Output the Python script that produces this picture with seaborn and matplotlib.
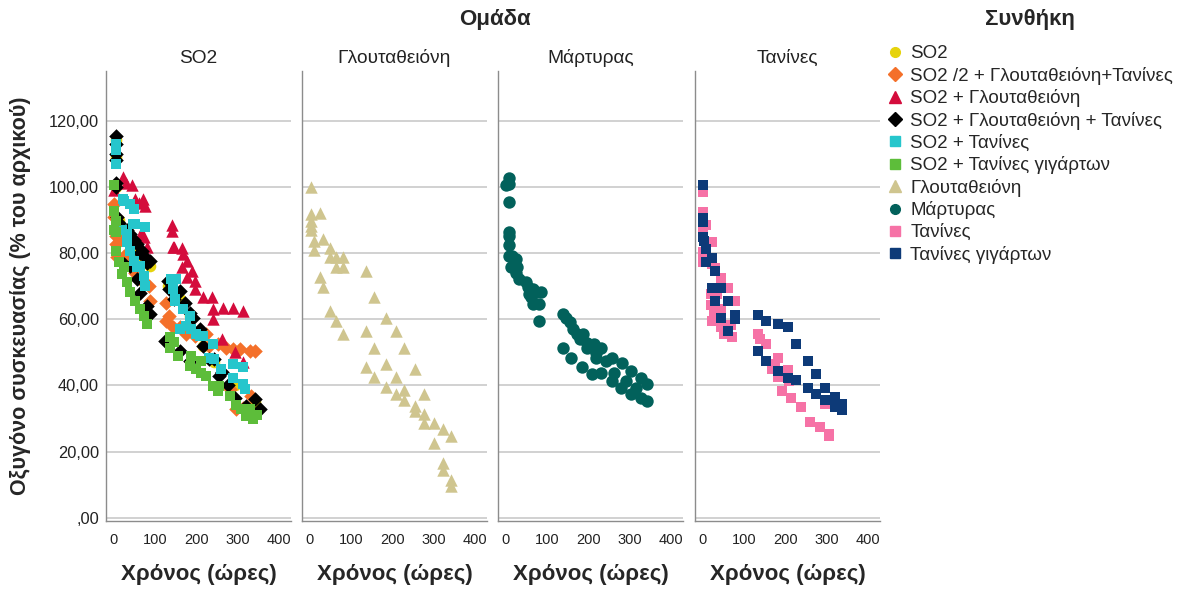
import matplotlib
matplotlib.use("Agg")
import matplotlib.pyplot as plt
from matplotlib.lines import Line2D
import seaborn as sns
import pandas as pd

# ---- conditions, groups and styling -------------------------------------
conditions = ["SO2", "SO2 /2 + Γλουταθειόνη+Τανίνες", "SO2 + Γλουταθειόνη",
              "SO2 + Γλουταθειόνη + Τανίνες", "SO2 + Τανίνες",
              "SO2 + Τανίνες γιγάρτων", "Γλουταθειόνη", "Μάρτυρας",
              "Τανίνες", "Τανίνες γιγάρτων"]
groups = ["SO2", "Γλουταθειόνη", "Μάρτυρας", "Τανίνες"]
group_of = {c: "SO2" for c in conditions[:6]}
group_of.update({"Γλουταθειόνη": "Γλουταθειόνη", "Μάρτυρας": "Μάρτυρας",
                 "Τανίνες": "Τανίνες", "Τανίνες γιγάρτων": "Τανίνες"})
colors = ["#e6d30c", "#f4702a", "#d40c3c", "#000000", "#26c6cc",
          "#5dbd3a", "#cfc58f", "#02615b", "#f672a6", "#0d3a78"]
markers = ["o", "D", "^", "D", "s", "s", "^", "o", "s", "s"]
sizes = [70, 55, 80, 55, 60, 60, 80, 80, 60, 60]

# ---- measurements: time (hours) and oxygen (% of initial) ----------------
so2_t = [4, 4, 4, 12, 24, 40, 56, 72, 88, 131, 159, 183, 215, 243, 292, 340]
so2_v = [114, 109, 100, 90, 86, 84, 81, 78, 76, 70, 66, 61, 52, 47, 40, 35]

half_t = [0, 0, 4, 4, 8, 16, 24, 36, 52, 64, 84, 88, 127, 133, 127, 143, 159,
          175, 195, 223, 231, 251, 271, 288, 304, 328, 340, 280, 296, 312, 332]
half_v = [94.8, 91, 85, 82.7, 78.7, 84, 79.2, 77, 74, 72, 70.1, 65.6, 65, 61,
          59.5, 57.5, 57.5, 55.5, 55, 55.5, 52, 52.4, 51.4, 50.9, 50.9, 50.4,
          50.4, 39, 32.7, 33, 36.8]

glut_so2_t = [0, 22, 29, 44, 52, 60, 71, 75, 65, 72, 79, 141, 141, 143, 145,
              165, 167, 177, 165, 190, 177, 195, 195, 215, 238, 239, 263, 289,
              312, 239, 262, 292, 312]
glut_so2_v = [99, 103, 101, 100.4, 96.4, 95, 96.4, 94.3, 86, 84.7, 81.8, 88.5,
              86.5, 81.7, 81.7, 81.4, 79.7, 77.7, 75.7, 74.7, 72.6, 71.6, 69.1,
              66.6, 66.6, 63, 63.5, 63.5, 62.5, 60, 54, 50, 47]

glut_tan_so2_t = [4, 4, 4, 4, 4, 4, 8, 12, 16, 24, 32, 40, 48, 56, 64, 68, 76,
                  80, 88, 40, 56, 64, 80, 88, 133, 137, 131, 145, 159, 171, 183,
                  191, 207, 215, 123, 159, 183, 243, 255, 275, 292, 320, 340,
                  352, 230, 262]
glut_tan_so2_v = [115.5, 113, 110, 108, 101, 100, 91, 89, 88, 76.7, 87, 85.8,
                  84, 82.7, 80, 80.7, 78.7, 77, 77.7, 76, 72, 68, 64, 61.5, 69,
                  71, 71.6, 66, 68.6, 65, 62, 60.5, 57, 52, 53.4, 50.4, 47.4,
                  47.9, 42.8, 40, 36.3, 33.7, 35.8, 32.7, 48, 44]

tan_so2_t = [4, 4, 4, 22, 24, 40, 48, 47, 52, 75, 20, 32, 32, 40, 48, 56, 72,
             76, 64, 139, 143, 151, 147, 147, 167, 183, 175, 159, 187, 199, 207,
             215, 239, 231, 243, 259, 287, 287, 312, 312, 316]
tan_so2_v = [113, 111, 107, 96.4, 95.8, 94.8, 93.3, 88.8, 88.8, 87.8, 86.8,
             85.8, 83.2, 80.7, 77.7, 75.7, 73.1, 70.1, 76, 72.1, 69.1, 72.1, 66,
             65.6, 63, 61, 58, 57, 57, 55.5, 55, 55, 52.4, 48.4, 47.9, 44.8,
             46.4, 42.3, 45.4, 40.3, 38.8]

grape_so2_t = [0, 0, 4, 0, 4, 4, 12, 20, 24, 32, 40, 52, 64, 72, 80, 135, 135,
               145, 155, 183, 187, 199, 211, 211, 223, 239, 251, 255, 280, 296,
               308, 328, 336, 320, 345]
grape_so2_v = [100.4, 92.8, 89.8, 86.8, 86.3, 80.7, 77.2, 73.6, 75.7, 71.1,
               68.1, 65.6, 63, 61, 58.5, 54.5, 51.4, 53, 48.9, 45.9, 48.9, 44.8,
               47.4, 43.8, 42.8, 39.8, 38.3, 39.8, 36.8, 34.2, 32.7, 32.7, 29.7,
               30.7, 31]

glut_t = [2, 2, 24, 2, 2, 2, 10, 32, 10, 48, 48, 64, 80, 64, 80, 24, 32, 48,
          64, 80, 135, 155, 183, 135, 207, 155, 227, 135, 183, 255, 155, 207,
          183, 227, 207, 275, 227, 255, 255, 275, 275, 299, 321, 340, 299, 321,
          321, 340, 340]
glut_v = [100, 91.8, 92, 89.8, 88.3, 86.8, 83.7, 84.2, 80.9, 81.5, 78.7, 78.7,
          78.7, 75.7, 75.7, 72.6, 69.6, 62.5, 59.5, 55.5, 74.6, 66.6, 60.5,
          56.5, 56.5, 51.4, 51.4, 45.4, 46.4, 44.8, 42.5, 42.5, 39.5, 38.5,
          37.5, 37.5, 35.5, 33.7, 32.2, 31.4, 28.7, 28.7, 26.7, 24.6, 22.6,
          16.6, 14.5, 11.5, 9.5]

control_t = [7, 7, 0, 7, 7, 7, 7, 7, 16, 25, 12, 28, 25, 32, 49, 53, 65, 57,
             73, 85, 61, 65, 79, 81, 137, 145, 155, 163, 173, 187, 179, 195,
             197, 213, 229, 217, 217, 241, 257, 280, 302, 326, 342, 137, 157,
             185, 209, 229, 261, 257, 278, 290, 314, 302, 326, 342]
control_v = [102.6, 100.9, 100.4, 95.4, 86.3, 85.2, 82.4, 79, 79, 78.2, 75.7,
             75.7, 74.1, 72.1, 71.1, 69.6, 69.1, 67.6, 68.1, 68.1, 66.6, 64.5,
             64.5, 59.5, 61.5, 60.5, 59, 57, 55.5, 55.5, 53.9, 52.9, 51.4, 52.4,
             51.4, 49.9, 48.4, 47.4, 48.4, 46.7, 44.3, 42.3, 40.3, 51.4, 48.4,
             45.4, 43.3, 43.6, 43.6, 41.3, 39.3, 41.3, 39.3, 37.3, 36.3, 35.2]

tan_t = [0, 0, 8, 0, 23, 0, 0, 23, 29, 45, 61, 19, 35, 78, 19, 27, 45, 23, 45,
         69, 51, 71, 133, 137, 153, 181, 175, 167, 181, 206, 208, 192, 212, 236,
         260, 284, 304, 304, 296]
tan_v = [98.4, 92.5, 88.5, 86.3, 83.4, 80.2, 77.4, 76.7, 75.4, 72.3, 69.4,
         67.6, 67.6, 65.4, 64.3, 62.5, 63, 59.5, 57.5, 58.3, 55.5, 54.5, 55.5,
         53.9, 52.4, 48.4, 46.4, 44.8, 42.5, 44.5, 41.3, 38.3, 36.3, 33.4, 28.9,
         27.4, 25.4, 24.6, 34.5]

grape_t = [0, 0, 0, 0, 3, 7, 23, 7, 29, 21, 45, 29, 61, 78, 78, 45, 61, 133,
           153, 181, 206, 225, 133, 153, 181, 206, 225, 253, 273, 253, 273, 296,
           296, 320, 320, 336, 336]
grape_v = [100.4, 90.5, 89.3, 84.8, 83.7, 81.2, 78.4, 77.4, 74.6, 69.4, 69.4,
           65.4, 65.4, 61.3, 60, 60.3, 56.3, 61.3, 59.3, 58.5, 57.5, 52.4, 50.4,
           47.4, 44.3, 42.3, 41.5, 47.4, 43.3, 39.3, 37.5, 39.3, 35.5, 36.5, 33.4,
           34.5, 32.4]

series = [(so2_t, so2_v), (half_t, half_v), (glut_so2_t, glut_so2_v),
          (glut_tan_so2_t, glut_tan_so2_v), (tan_so2_t, tan_so2_v),
          (grape_so2_t, grape_so2_v), (glut_t, glut_v), (control_t, control_v),
          (tan_t, tan_v), (grape_t, grape_v)]

frames = []
for cond, (t, v) in zip(conditions, series):
    frames.append(pd.DataFrame({"Χρόνος": t, "Οξυγόνο": v, "Συνθήκη": cond,
                                "Ομάδα": group_of[cond]}))
df = pd.concat(frames, ignore_index=True)

# ---- figure --------------------------------------------------------------
sns.set_style("white")
plt.rcParams["font.family"] = ["Liberation Sans", "DejaVu Sans"]

W, H = 1179, 590
fig = plt.figure(figsize=(W / 100, H / 100), dpi=100)

lefts = [106, 302, 498, 695]
panel_w, top_px, bottom_px = 185, 71, 521
grid_col = "#c9c9c9"
spine_col = "#8c8c8c"

for i, (grp, lx) in enumerate(zip(groups, lefts)):
    ax = fig.add_axes([lx / W, 1 - bottom_px / H, panel_w / W,
                       (bottom_px - top_px) / H])
    for cond, col, mk, sz in zip(conditions, colors, markers, sizes):
        sub = df[(df["Ομάδα"] == grp) & (df["Συνθήκη"] == cond)]
        if sub.empty:
            continue
        sns.scatterplot(data=sub, x="Χρόνος", y="Οξυγόνο", color=col,
                        marker=mk, s=sz, linewidth=0, ax=ax, legend=False,
                        zorder=3)
    ax.set_xlim(-19, 428)
    ax.set_ylim(-1, 135)
    ax.set_yticks(range(0, 121, 20))
    ax.set_xticks([0, 100, 200, 300, 400])
    ax.set_xticklabels(["0", "100", "200", "300", "400"], fontsize=10.5,
                       color="#222222")
    if i == 0:
        ax.set_yticklabels([",00"] + [f"{v},00" for v in range(20, 121, 20)],
                           fontsize=11.8, color="#222222")
        ax.set_ylabel("Οξυγόνο συσκευασίας (% του αρχικού)", fontsize=15.5,
                      fontweight="bold", labelpad=13)
    else:
        ax.set_yticklabels([])
        ax.set_ylabel("")
    ax.tick_params(axis="both", length=0)
    ax.tick_params(axis="x", pad=9)
    ax.tick_params(axis="y", pad=5)
    ax.grid(axis="y", color=grid_col, linewidth=1.2, zorder=0)
    ax.grid(axis="x", visible=False)
    ax.set_axisbelow(True)
    for s in ["top", "right"]:
        ax.spines[s].set_visible(False)
    for s in ["left", "bottom"]:
        ax.spines[s].set_color(spine_col)
        ax.spines[s].set_linewidth(1.0)
    ax.set_xlabel("Χρόνος (ώρες)", fontsize=16, fontweight="bold", labelpad=12)
    ax.set_title(grp, fontsize=13.8, color="#222222", pad=6)

fig.text(495 / W, 1 - 20 / H, "Ομάδα", ha="center", va="center",
         fontsize=16, fontweight="bold")
fig.text(1030 / W, 1 - 20 / H, "Συνθήκη", ha="center", va="center",
         fontsize=16, fontweight="bold")

handles = [Line2D([], [], linestyle="none", marker=mk, color=col,
                  markersize=7 if mk != "^" else 8) for col, mk in
           zip(colors, markers)]
fig.legend(handles, conditions, loc="upper left",
           bbox_to_anchor=(887 / W, 1 - 45 / H), frameon=False, fontsize=13.5,
           handlelength=0.8, handletextpad=0.45, labelspacing=0.245,
           borderaxespad=0, borderpad=0)

fig.savefig("out.png", dpi=100)
